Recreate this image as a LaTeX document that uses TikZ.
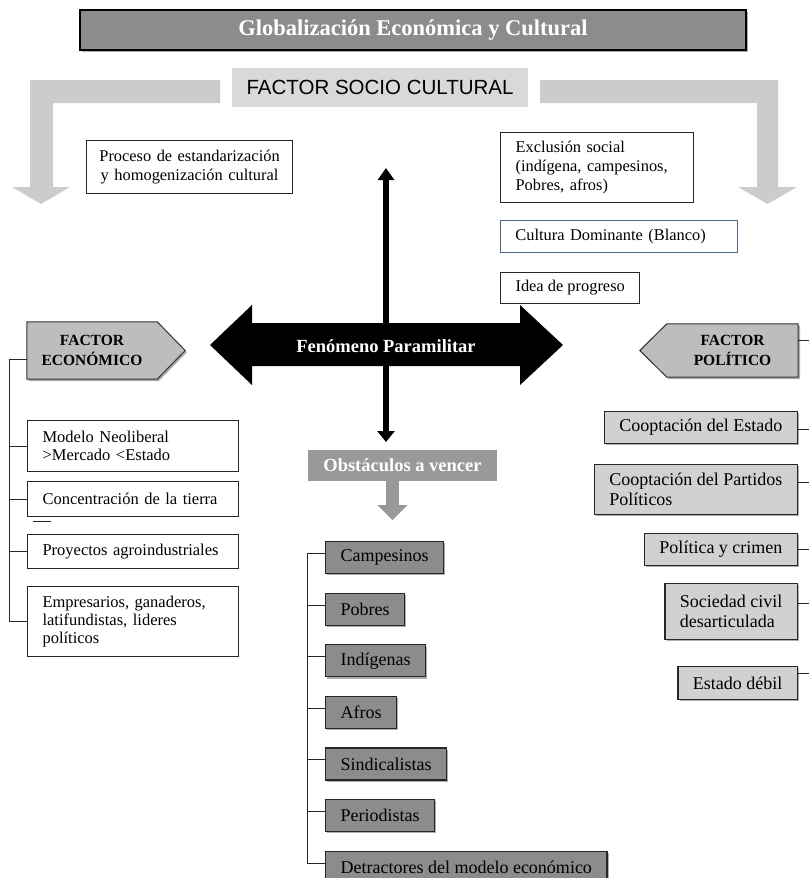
\documentclass[tikz,border=0pt]{standalone}
\usepackage{fontspec}
\setmainfont{Liberation Serif}
\newfontfamily\bannerfont{Liberation Sans}
\usetikzlibrary{positioning,arrows.meta,shadows,backgrounds}

\begin{document}
\begin{tikzpicture}[
    x=1pt, y=-1pt,
    node distance=18.5pt,
    shadowed/.style={drop shadow={shadow xshift=1.8pt, shadow yshift=-1.8pt, fill=black!70, opacity=0.45}},
    wbox/.style={draw=black!85, line width=1.1pt, fill=white, inner xsep=15pt, inner ysep=4pt, font=\fontsize{16.4}{19}\selectfont},
    lbox/.style={wbox, anchor=north west, align=left, text width=181pt, font=\fontsize{16.5}{18}\selectfont},
    obox/.style={draw=black!85, line width=1.1pt, fill=black!45, shadowed, anchor=north west, inner xsep=15pt, minimum height=32pt, font=\fontsize{18}{20}\selectfont},
    pbox/.style={draw=black!85, line width=1.1pt, fill=black!18, shadowed, anchor=north east, align=left, inner xsep=15pt, font=\fontsize{18}{20}\selectfont},
    factor/.style={minimum width=130pt, minimum height=57pt, align=center, font=\bfseries\fontsize{15.5}{20}\selectfont},
    tree/.style={draw=black!85, line width=1pt},
    band/.style={fill=black!20},
    arr/.style={line width=6pt, {Triangle[width=16pt,length=12pt]}-{Triangle[width=17pt,length=11pt]}}
]
\useasboundingbox (0,0) rectangle (809,878);

% Title
\node[draw=black, line width=1.3pt, fill=black!45, shadowed, minimum width=666pt, minimum height=40pt, text=white, font=\bfseries\fontsize{22.5}{26}\selectfont] (glob) at (413,30) {Globalización Económica y Cultural};

% Socio-cultural factor
\fill[band] (220,80) -- (30,80) -- (30,187) -- (12,187) -- (41,204) -- (70,187) -- (53,187) -- (53,103) -- (220,103) -- cycle;
\fill[band] (540,80) -- (778,80) -- (778,187) -- (797,187) -- (767.5,204) -- (738,187) -- (757,187) -- (757,103) -- (540,103) -- cycle;
\node[fill=black!15, minimum width=296pt, minimum height=39pt, font=\bannerfont\fontsize{20.5}{24}\selectfont] (socio) at (380,87.5) {FACTOR SOCIO CULTURAL};

\node[wbox, anchor=north west, inner xsep=6pt, text width=194pt, align=center, minimum height=53pt] (proc) at (86,140) {Proceso de estandarización\\y homogenización cultural};
\node[wbox, anchor=north west, text width=163pt, align=left, minimum height=70pt] (excl) at (500,132) {Exclusión social\\(indígena, campesinos,\\Pobres, afros)};
\node[wbox, draw={rgb,255:red,80;green,100;blue,130}, line width=0.8pt, anchor=north west, text width=207pt, align=left, minimum height=32pt] (cult) at (500,220) {Cultura Dominante (Blanco)};
\node[wbox, anchor=north west, minimum height=31pt] (idea) at (500,272) {Idea de progreso};

% Central phenomenon
\coordinate (vtop) at (386,168);
\coordinate (vbot) at (386,442);
\draw[arr] (vtop) -- (vbot);
\fill (210,345) -- (252,305) -- (252,323) -- (520,323) -- (520,305) -- (563,345) -- (520,385) -- (520,366) -- (252,366) -- (252,385) -- cycle;
\node[text=white, font=\bfseries\fontsize{18.5}{22}\selectfont] (feno) at (386,346) {Fenómeno Paramilitar};

% Economic factor
\node[factor] (eco) at (92,350.5) {FACTOR\\ECONÓMICO};
\node[lbox, minimum height=51pt] (neo) at (27,420) {Modelo Neoliberal\\>Mercado <Estado};
\node[lbox, minimum height=35pt] (tierra) at (27,481) {Concentración de la tierra};
\node[lbox, minimum height=34pt] (agro) at (27,534) {Proyectos agroindustriales};
\node[lbox, minimum height=70pt] (elite) at (27,586) {Empresarios, ganaderos,\\latifundistas, lideres\\políticos};

\draw[tree] ([yshift=-8.5pt]eco.west) -- ++(-17pt,0) |- (elite.west);
\foreach \n in {neo,tierra,agro}
    \draw[tree] (\n.west) -- ++(-17pt,0);
\draw[tree] (33,521) -- (51,521);

% Obstacles
\node[fill=black!40, minimum width=189pt, minimum height=31pt, text=white, font=\bfseries\fontsize{18.5}{22}\selectfont] (obst) at (402.5,465.5) {Obstáculos a vencer};
\draw[line width=13pt, black!40, -{Triangle[width=29pt,length=15pt]}] ([xshift=-10pt]obst.south) -- ++(0,39);

\node[obox] (camp) at (325,541) {Campesinos};
\node[obox, below=of camp.south west, anchor=north west] (pobres) {Pobres};
\node[obox, below=of pobres.south west, anchor=north west] (indig) {Indígenas};
\node[obox, below=of indig.south west, anchor=north west] (afros) {Afros};
\node[obox, below=of afros.south west, anchor=north west] (sindic) {Sindicalistas};
\node[obox, below=of sindic.south west, anchor=north west] (period) {Periodistas};
\node[obox, below=of period.south west, anchor=north west] (detrac) {Detractores del modelo económico};

\draw[tree] ([yshift=4pt]camp.west) -- ++(-18pt,0) |- ([yshift=4pt]detrac.west);
\foreach \n in {pobres,indig,afros,sindic,period}
    \draw[tree] ([yshift=4pt]\n.west) -- ++(-18pt,0);

% Political factor
\node[factor, minimum width=131pt, minimum height=53pt] (pol) at (732.5,350.5) {FACTOR\\POLÍTICO};
\node[pbox, minimum height=32pt] (coest) at (798,411) {Cooptación del Estado};
\node[pbox, minimum height=50pt] (copart) at (798,464) {Cooptación del Partidos\\Políticos};
\node[pbox, minimum height=32pt] (crimen) at (798,533) {Política y crimen};
\node[pbox, minimum height=56pt] (civil) at (798,583) {Sociedad civil\\desarticulada};
\node[pbox, minimum height=33pt] (debil) at (798,666) {Estado débil};

\draw[tree] ([yshift=10.5pt]pol.east) -- ++(11pt,0);
\draw[tree] ([yshift=-2pt]coest.east) -- ++(11pt,0);
\draw[tree] ([yshift=7pt]copart.east) -- ++(11pt,0);
\draw[tree] (crimen.east) -- ++(11pt,0);
\draw[tree] ([yshift=8pt]civil.east) -- ++(11pt,0);
\draw[tree] ([yshift=9.5pt]debil.east) -- ++(11pt,0);

% Factor shapes behind their labels
\begin{scope}[on background layer]
\path[draw=black!80, line width=1pt, fill=black!26, shadowed] (eco.north west) -- (eco.north east) -- ([xshift=28pt]eco.east) -- (eco.south east) -- (eco.south west) -- cycle;
\path[draw=black!80, line width=1pt, fill=black!26, shadowed] (pol.north east) -- (pol.north west) -- ([xshift=-27pt]pol.west) -- (pol.south west) -- (pol.south east) -- cycle;
\end{scope}
\end{tikzpicture}
\end{document}
